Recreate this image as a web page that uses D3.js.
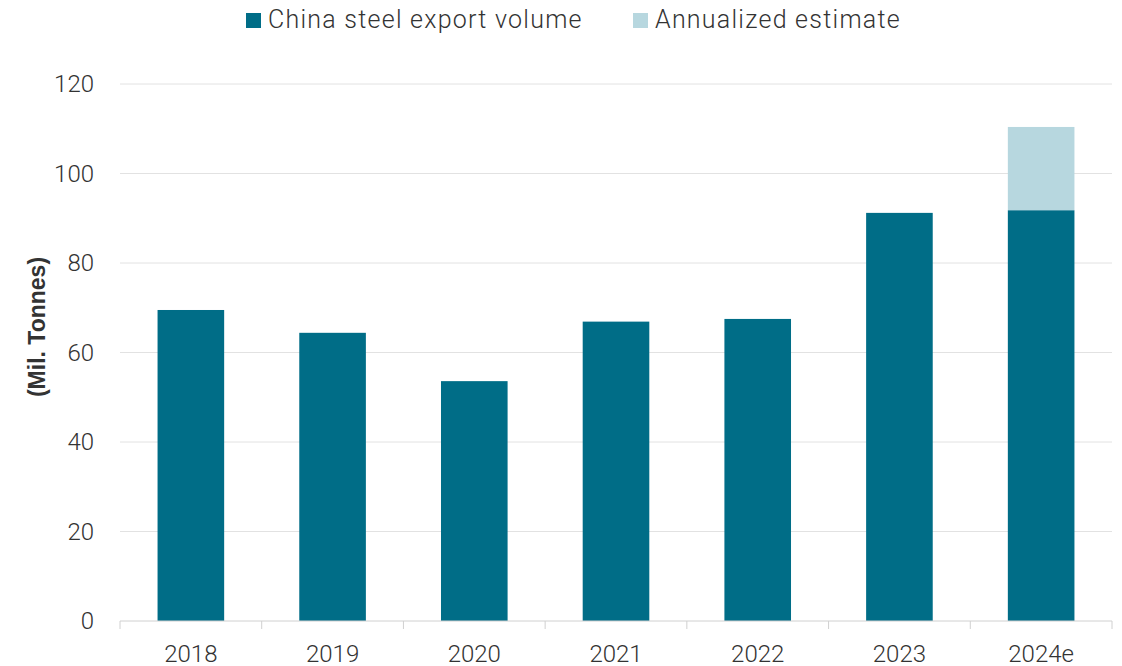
<!DOCTYPE html>
<html>
<head>
<meta charset="utf-8">
<script src="https://cdn.jsdelivr.net/npm/d3@7"></script>
<style>
  html, body { margin: 0; padding: 0; background: #fff; }
  svg { display: block; }
  text { font-family: Roboto, "Liberation Sans", sans-serif; fill: #333; }
</style>
</head>
<body>
<svg id="chart" width="1122" height="666"></svg>
<script>
// China steel exports, million tonnes
const years = ["2018", "2019", "2020", "2021", "2022", "2023", "2024e"];
const exportVolume = [69.5, 64.4, 53.6, 66.9, 67.5, 91.2, 91.8];
const annualizedEstimate = [0, 0, 0, 0, 0, 0, 18.6];
const seriesNames = ["China steel export volume", "Annualized estimate"];
const seriesColors = ["#006d87", "#b7d7df"];
const yTicks = [0, 20, 40, 60, 80, 100, 120];
const yTitle = "(Mil. Tonnes)";

const svg = d3.select("#chart");
const margin = { top: 84, right: 10, bottom: 45, left: 120 };
const W = 1122, H = 666;

const x = d3.scaleBand().domain(years)
  .range([margin.left, W - margin.right]).paddingInner(0.53).paddingOuter(0.265);
const y = d3.scaleLinear().domain([0, 120]).range([H - margin.bottom, margin.top]);

// horizontal gridlines
svg.append("g").selectAll("line").data(yTicks.filter(d => d > 0)).join("line")
  .attr("x1", margin.left).attr("x2", W - margin.right)
  .attr("y1", d => y(d)).attr("y2", d => y(d))
  .attr("stroke", "#e2e2e2").attr("stroke-width", 1);

// y axis labels
const yAxis = svg.append("g").attr("transform", `translate(${margin.left},0)`)
  .call(d3.axisLeft(y).tickValues(yTicks).tickSize(0).tickPadding(26));
yAxis.select(".domain").remove();
yAxis.selectAll("text").style("font-size", "24px").style("font-weight", 300)
  .style("font-family", "Roboto, sans-serif").attr("fill", "#333");

// stacked bars
const rows = years.map((yr, i) => ({ year: yr, base: exportVolume[i], est: annualizedEstimate[i] }));
const stack = d3.stack().keys(["base", "est"])(rows);

svg.append("g").selectAll("g").data(stack).join("g")
  .attr("fill", (d, i) => seriesColors[i])
  .selectAll("rect").data(d => d.filter(p => p[1] - p[0] > 0)).join("rect")
  .attr("x", d => x(d.data.year))
  .attr("width", x.bandwidth())
  .attr("y", d => y(d[1]))
  .attr("height", d => y(d[0]) - y(d[1]));

// x axis with boundary ticks
const xAxisY = y(0);
svg.append("line").attr("x1", margin.left).attr("x2", W - margin.right)
  .attr("y1", xAxisY).attr("y2", xAxisY).attr("stroke", "#d0d0d0");
const step = x.step();
const bounds = years.map(yr => x(yr) - (step - x.bandwidth()) / 2);
bounds.push(W - margin.right);
svg.append("g").selectAll("line").data(bounds).join("line")
  .attr("x1", d => d).attr("x2", d => d)
  .attr("y1", xAxisY).attr("y2", xAxisY + 8)
  .attr("stroke", "#d0d0d0");
svg.append("g").selectAll("text").data(years).join("text")
  .attr("x", d => x(d) + x.bandwidth() / 2)
  .attr("y", xAxisY + 41)
  .attr("text-anchor", "middle")
  .style("font-size", "24px").style("font-weight", 300)
  .text(d => d);

// y title
svg.append("text")
  .attr("transform", `translate(45,327) rotate(-90)`)
  .attr("text-anchor", "middle")
  .style("font-family", "'Liberation Sans', Arial, sans-serif")
  .style("font-size", "23px").style("font-weight", "bold")
  .attr("fill", "#111")
  .text(yTitle);

// legend
const legend = svg.append("g");
const legendItems = [{ x: 246, name: seriesNames[0], color: seriesColors[0] },
                     { x: 633, name: seriesNames[1], color: seriesColors[1] }];
legendItems.forEach(it => {
  legend.append("rect").attr("x", it.x).attr("y", 13).attr("width", 15).attr("height", 15)
    .attr("fill", it.color);
  legend.append("text").attr("x", it.x + 22).attr("y", 28)
    .style("font-size", "25px").style("font-weight", 300)
    .style("letter-spacing", "1.25px")
    .text(it.name);
});
</script>
</body>
</html>
